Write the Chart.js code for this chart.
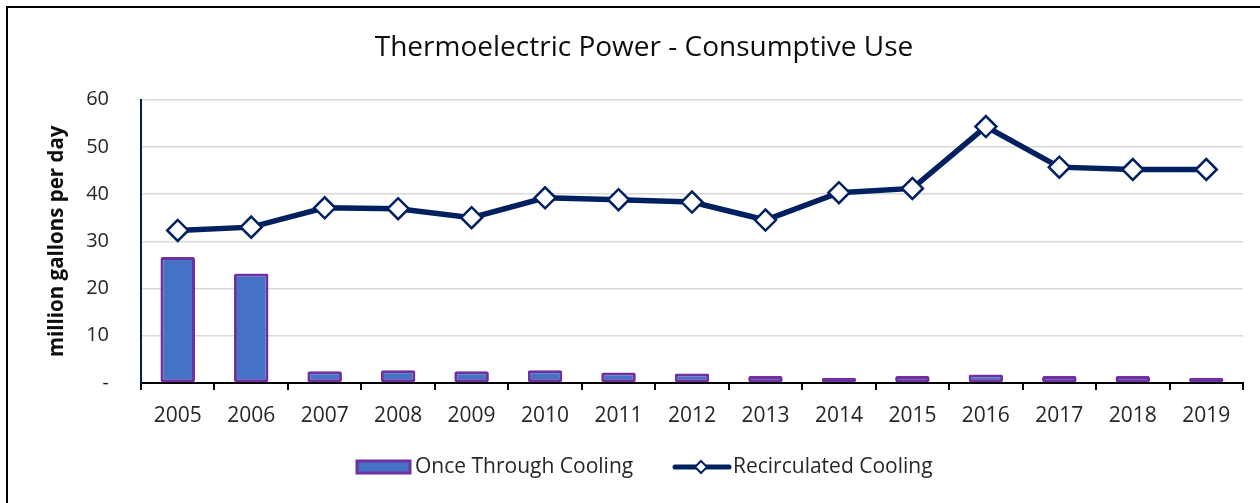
<!DOCTYPE html>
<html>
<head>
<meta charset="utf-8">
<script src="https://cdn.jsdelivr.net/npm/chart.js@4.4.0/dist/chart.umd.min.js"></script>
<style>
  html, body { margin: 0; padding: 0; background: #fff; overflow: hidden; }
  #frame { position: absolute; left: 6px; top: 6px; width: 1400px; height: 700px; border: 2px solid #000; }
  #wrap { position: absolute; left: 0; top: 0; width: 1260px; height: 503px; }
</style>
</head>
<body>
<div id="frame"></div>
<div id="wrap"><canvas id="chart" width="1260" height="503"></canvas></div>
<script>
// chart data
const years = ['2005', '2006', '2007', '2008', '2009', '2010', '2011', '2012', '2013', '2014', '2015', '2016', '2017', '2018', '2019'];
const onceThrough = [26.7, 23.2, 2.5, 2.7, 2.5, 2.7, 2.2, 2.0, 1.5, 1.1, 1.5, 1.8, 1.5, 1.5, 1.1];
const recirculated = [32.3, 33.0, 37.1, 36.9, 35.0, 39.2, 38.8, 38.3, 34.5, 40.3, 41.2, 54.3, 45.7, 45.2, 45.2];
const yTicks = [0, 10, 20, 30, 40, 50, 60];

const NAVY = '#002060';
const BAR_FILL = '#4472C4';
const BAR_EDGE = '#7030A0';
const FONT = "'Open Sans', Lato, sans-serif";
const TEXT = '#262626';

// legend drawn by hand so the line item can show the diamond marker
const bottomLegend = {
  id: 'bottomLegend',
  afterDraw(chart) {
    const ctx = chart.ctx;
    const y = 467;
    ctx.save();
    // bar item
    ctx.fillStyle = BAR_FILL;
    ctx.strokeStyle = BAR_EDGE;
    ctx.lineWidth = 3;
    ctx.fillRect(357, 461, 53, 12);
    ctx.strokeRect(357, 461, 53, 12);
    ctx.font = '21px ' + FONT;
    ctx.fillStyle = TEXT;
    ctx.textBaseline = 'middle';
    ctx.fillText('Once Through Cooling', 415, y);
    // line item
    ctx.strokeStyle = NAVY;
    ctx.lineWidth = 5;
    ctx.lineCap = 'round';
    ctx.beginPath();
    ctx.moveTo(675, y);
    ctx.lineTo(729, y);
    ctx.stroke();
    ctx.fillStyle = '#fff';
    ctx.lineWidth = 2;
    ctx.beginPath();
    ctx.moveTo(701, y - 6);
    ctx.lineTo(707, y);
    ctx.lineTo(701, y + 6);
    ctx.lineTo(695, y);
    ctx.closePath();
    ctx.fill();
    ctx.stroke();
    ctx.fillStyle = TEXT;
    ctx.fillText('Recirculated Cooling', 733, y);
    ctx.restore();
  }
};

new Chart(document.getElementById('chart'), {
  type: 'bar',
  data: {
    labels: years,
    datasets: [
      {
        type: 'line',
        label: 'Recirculated Cooling',
        data: recirculated,
        borderColor: NAVY,
        borderWidth: 5.5,
        pointStyle: 'rectRot',
        pointRadius: 10.5,
        pointBorderWidth: 2.5,
        pointBackgroundColor: '#fff',
        pointBorderColor: NAVY,
        tension: 0,
        order: 0
      },
      {
        type: 'bar',
        label: 'Once Through Cooling',
        data: onceThrough,
        backgroundColor: BAR_FILL,
        borderColor: BAR_EDGE,
        borderWidth: 3,
        borderRadius: 2,
        borderSkipped: false,
        barPercentage: 0.47,
        categoryPercentage: 1,
        order: 1
      }
    ]
  },
  options: {
    responsive: false,
    animation: false,
    layout: { padding: { top: 0, left: 45, right: 17, bottom: 73 } },
    plugins: {
      legend: { display: false },
      tooltip: { enabled: false },
      title: {
        display: true,
        text: 'Thermoelectric Power - Consumptive Use',
        color: '#0d0d0d',
        font: { family: FONT, size: 28, weight: 'normal' },
        padding: { top: 31, bottom: 35 }
      }
    },
    scales: {
      x: {
        offset: true,
        border: { display: true, color: '#000', width: 2 },
        grid: { offset: true, drawOnChartArea: false, drawTicks: true, tickLength: 7, color: '#000', lineWidth: 2 },
        ticks: { color: TEXT, font: { family: FONT, size: 21 }, padding: 13, maxRotation: 0 },
        afterFit(scale) { scale.height = 47; }
      },
      y: {
        min: 0,
        max: 60,
        afterBuildTicks(scale) { scale.ticks = yTicks.map(v => ({ value: v })); },
        border: { display: true, color: NAVY, width: 2 },
        grid: { color: '#d9d9d9', lineWidth: 1.5, drawTicks: false },
        ticks: {
          color: TEXT,
          font: { family: FONT, size: 20 },
          padding: 32,
          callback: v => (v === 0 ? '-' : v)
        },
        title: {
          display: true,
          text: 'million gallons per day',
          color: '#0d0d0d',
          font: { family: FONT, size: 20.5, weight: 'bold' },
          padding: { top: 0, bottom: 0 }
        },
        afterFit(scale) { scale.width = 96; }
      }
    }
  },
  plugins: [bottomLegend]
});
</script>
</body>
</html>
